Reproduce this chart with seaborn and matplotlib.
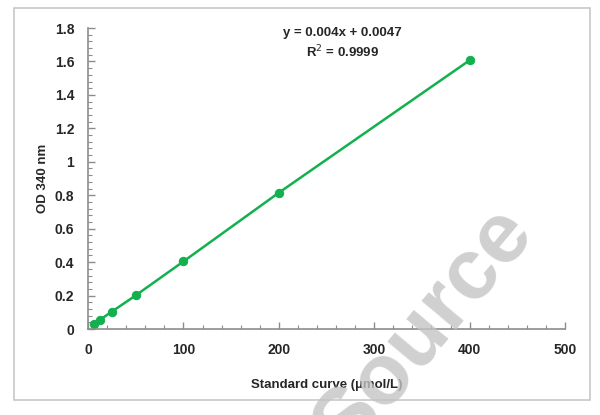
import numpy as np
import matplotlib
matplotlib.use("Agg")
import matplotlib.pyplot as plt
from matplotlib.patches import Rectangle
from matplotlib.ticker import MultipleLocator
import seaborn as sns

# Standard curve data
concentration = [6.25, 12.5, 25, 50, 100, 200, 400]
od_340 = [0.030, 0.055, 0.104, 0.201, 0.404, 0.815, 1.607]
equation = "y = 0.004x + 0.0047"
r_squared = "R$^2$ = 0.9999"

sns.set_style("white")
plt.rcParams['font.family'] = ['Liberation Sans', 'DejaVu Sans']

green = '#13b04f'
axis_grey = '#8c8c8c'

fig = plt.figure(figsize=(6.0, 4.15), dpi=100)
ax = fig.add_axes([0.1467, 0.2072, 0.795, 0.7253])

# grey frame around the chart
fig.patches.append(Rectangle((14 / 600, 1 - 400 / 415), 576 / 600, 392 / 415,
                             transform=fig.transFigure, fill=False,
                             edgecolor='#c8c8c8', linewidth=1.2))

sns.lineplot(x=concentration, y=od_340, ax=ax, color=green, linewidth=1.8,
             marker='o', markersize=6, markeredgecolor=green)

ax.set_xlim(0, 500)
ax.set_ylim(0, 1.8)
ax.xaxis.set_major_locator(MultipleLocator(100))
ax.xaxis.set_minor_locator(MultipleLocator(20))
ax.yaxis.set_major_locator(MultipleLocator(0.2))
ax.yaxis.set_minor_locator(MultipleLocator(0.04))
ax.yaxis.set_major_formatter(lambda v, p: f"{v:g}")
ax.xaxis.set_major_formatter(lambda v, p: f"{v:g}")

for side in ['top', 'right']:
    ax.spines[side].set_visible(False)
for side in ['left', 'bottom']:
    ax.spines[side].set_color(axis_grey)
    ax.spines[side].set_linewidth(1.2)

ax.tick_params(which='both', bottom=True, left=True, direction='in', color=axis_grey)
ax.tick_params(which='major', length=5, width=1, labelsize=10, pad=10)
ax.tick_params(which='minor', length=3, width=0.8)
for lbl in ax.get_xticklabels() + ax.get_yticklabels():
    lbl.set_fontweight('bold')

ax.set_xlabel("Standard curve (µmol/L)", fontsize=9.5, fontweight='bold', labelpad=16)
ax.set_ylabel("OD 340 nm", fontsize=9.5, fontweight='bold', labelpad=4)

ax.text(0.533, 0.985, equation, transform=ax.transAxes, ha='center', va='center',
        fontsize=9.5, fontweight='bold')
ax.text(0.533, 0.92, r_squared, transform=ax.transAxes, ha='center', va='center',
        fontsize=9.5, fontweight='bold')

# watermark
fig.text(0.708, 0.205, "Source", rotation=50, fontsize=62, fontweight='bold',
         color='#c4c4c4', alpha=0.8, ha='center', va='center')

fig.savefig("out.png", dpi=100)
